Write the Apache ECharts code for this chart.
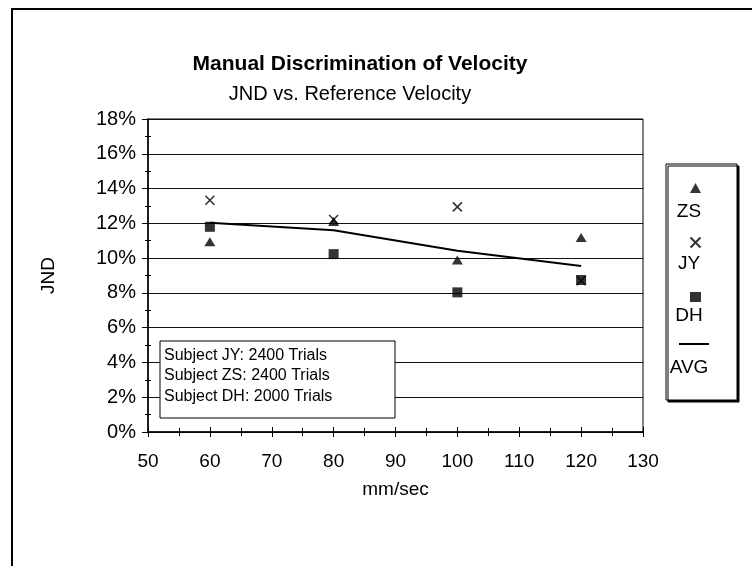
<!DOCTYPE html>
<html>
<head>
<meta charset="utf-8">
<script src="https://cdn.jsdelivr.net/npm/echarts@6/dist/echarts.min.js"></script>
<style>
html,body{margin:0;padding:0;background:#fff;}
#chart{width:752px;height:566px;}
</style>
</head>
<body>
<div id="chart"></div>
<script>
// Data
const velocities = [60, 80, 100, 120];           // mm/sec
const zsValues  = [10.94, 12.1, 9.89, 11.19];     // JND %
const jyValues  = [13.33, 12.22, 12.95, 8.7];
const dhValues  = [11.8, 10.23, 8.03, 8.74];
const avgValues = [12.03, 11.6, 10.42, 9.54];
const seriesNames = ['ZS', 'JY', 'DH', 'AVG'];
const noteLines = ['Subject JY: 2400 Trials', 'Subject ZS: 2400 Trials', 'Subject DH: 2000 Trials'];
const titleText = 'Manual Discrimination of Velocity';
const subtitleText = 'JND vs. Reference Velocity';
const xMin = 50, xMax = 130, xStep = 10;
const yMin = 0, yMax = 18, yStep = 2;

const FONT = '"Liberation Sans", Arial, sans-serif';
const pairs = arr => velocities.map((v, i) => [v, arr[i]]);
const crossPath = 'path://M0,0L10,10M10,0L0,10';

const chart = echarts.init(document.getElementById('chart'), null, {renderer: 'canvas'});
const grid = {left: 148, top: 119, right: 109, bottom: 134, show: true, borderColor: '#000', borderWidth: 1, backgroundColor: 'transparent'};

const legendText = (name, y) => ({type: 'text', silent: true, z: 10, x: 689, y: y,
  style: {text: name, fontFamily: FONT, fontSize: 19, fill: '#000', align: 'center', verticalAlign: 'middle'}});

const option = {
  backgroundColor: '#fff',
  animation: false,
  title: [
    {text: titleText, left: 355, textAlign: 'center', top: 49,
     textStyle: {fontFamily: FONT, fontSize: 21, fontWeight: 'bold', color: '#000'}},
    {text: subtitleText, left: 345, textAlign: 'center', top: 79,
     textStyle: {fontFamily: FONT, fontSize: 20, fontWeight: 'normal', color: '#000'}}
  ],
  grid: grid,
  xAxis: [{
    type: 'value', min: xMin, max: xMax, interval: xStep,
    name: 'mm/sec', nameLocation: 'middle', nameGap: 48,
    nameTextStyle: {fontFamily: FONT, fontSize: 19, color: '#000'},
    axisLine: {show: true, lineStyle: {color: '#000', width: 1.5}},
    axisTick: {show: true, length: 5, lineStyle: {color: '#000'}},
    minorTick: {show: true, splitNumber: 2, length: 4, lineStyle: {color: '#000'}},
    axisLabel: {fontFamily: FONT, fontSize: 19, color: '#000', margin: 20},
    splitLine: {show: false}
  }, {
    type: 'value', min: xMin, max: xMax, interval: xStep, position: 'bottom',
    axisLine: {show: false},
    axisTick: {show: true, inside: true, length: 5, lineStyle: {color: '#000'}},
    minorTick: {show: true, splitNumber: 2, length: 4, lineStyle: {color: '#000'}},
    axisLabel: {show: false}, splitLine: {show: false}
  }],
  yAxis: [{
    type: 'value', min: yMin, max: yMax, interval: yStep,
    name: 'JND', nameLocation: 'middle', nameGap: 90, nameRotate: 90,
    nameTextStyle: {fontFamily: FONT, fontSize: 19, color: '#000'},
    axisLine: {show: true, lineStyle: {color: '#000', width: 1.5}},
    axisTick: {show: true, length: 6, lineStyle: {color: '#000'}},
    minorTick: {show: true, splitNumber: 2, length: 3, lineStyle: {color: '#000'}},
    axisLabel: {fontFamily: FONT, fontSize: 20, color: '#000', margin: 12, formatter: '{value}%'},
    splitLine: {show: true, lineStyle: {color: '#111', width: 1}}
  }, {
    type: 'value', min: yMin, max: yMax, interval: yStep, position: 'left',
    axisLine: {show: false},
    axisTick: {show: true, inside: true, length: 1, lineStyle: {color: '#000'}},
    minorTick: {show: true, splitNumber: 2, length: 3, lineStyle: {color: '#000'}},
    axisLabel: {show: false}, splitLine: {show: false}
  }],
  legend: [{
    orient: 'vertical', left: 683, top: 178,
    itemWidth: 11, itemHeight: 10, itemGap: 42,
    data: ['ZS', 'JY', 'DH'],
    formatter: () => '',
    textStyle: {fontSize: 8, lineHeight: 10},
    selectedMode: false
  }, {
    orient: 'vertical', left: 674, top: 338,
    itemWidth: 30, itemHeight: 2,
    data: [{name: 'AVG', icon: 'rect'}],
    formatter: () => '',
    textStyle: {fontSize: 1, lineHeight: 2},
    selectedMode: false
  }],
  series: [
    {name: 'ZS', type: 'scatter', data: pairs(zsValues), symbol: 'triangle', symbolSize: [11, 9],
     itemStyle: {color: '#000'}, z: 3},
    {name: 'JY', type: 'scatter', data: pairs(jyValues), symbol: crossPath, symbolSize: 9,
     itemStyle: {color: 'none', borderColor: '#000', borderWidth: 1.6}, z: 4},
    {name: 'DH', type: 'scatter', data: pairs(dhValues), symbol: 'rect', symbolSize: 10,
     itemStyle: {color: '#000'}, z: 5},
    {name: 'AVG', type: 'line', data: pairs(avgValues), symbol: 'none', showSymbol: false,
     lineStyle: {color: '#000', width: 2}, itemStyle: {color: '#000'}, z: 6}
  ],
  graphic: [
    {type: 'rect', silent: true, z: 0, shape: {x: 12, y: 9, width: 760, height: 620},
     style: {fill: 'none', stroke: '#000', lineWidth: 2}},
    {type: 'rect', silent: true, z: 1, shape: {x: 666, y: 164, width: 71, height: 236},
     style: {fill: '#fff', stroke: '#000', lineWidth: 1, shadowColor: '#000', shadowOffsetX: 2, shadowOffsetY: 2, shadowBlur: 0}},
    legendText('ZS', 212),
    legendText('JY', 264),
    legendText('DH', 316),
    legendText('AVG', 368),
    {type: 'rect', silent: true, z: 10, shape: {x: 160, y: 341, width: 235, height: 77},
     style: {fill: '#fff', stroke: '#000', lineWidth: 1}},
    {type: 'text', silent: true, z: 11, x: 164, y: 345,
     style: {text: noteLines.join('\n'), fontFamily: FONT, fontSize: 16, lineHeight: 20.5, fill: '#000', align: 'left', verticalAlign: 'top'}}
  ]
};
chart.setOption(option);
</script>
</body>
</html>
